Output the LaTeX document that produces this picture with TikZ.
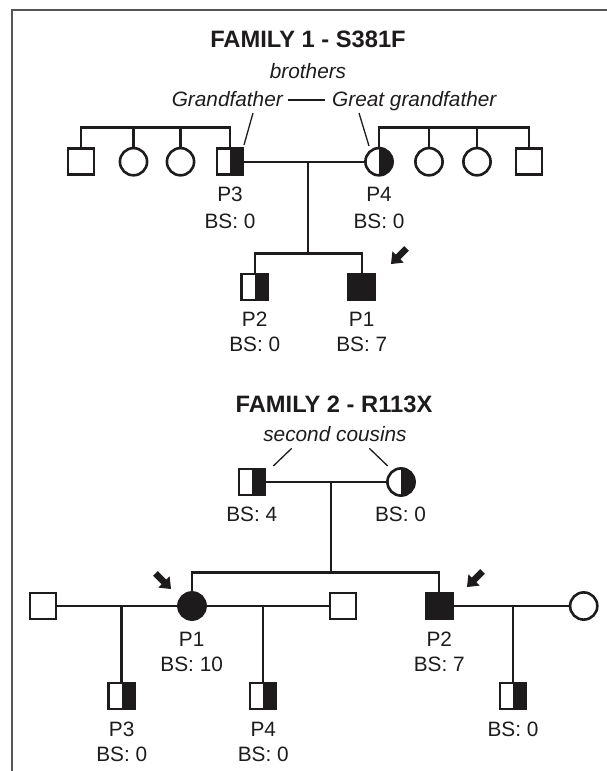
\documentclass[tikz,border=0pt]{standalone}
\usepackage{fontspec}
\setmainfont{Liberation Sans}
\definecolor{inkc}{RGB}{30,27,28}
\definecolor{framec}{RGB}{85,85,85}
\newcommand{\halfsq}[1]{\fill[inkc] (#1.north) rectangle (#1.south east);}
\newcommand{\halfci}[1]{\begin{scope}\clip (#1.north) rectangle ([xshift=20pt]#1.south);\fill[inkc] (#1.center) circle (13.6pt);\end{scope}}
\newcommand{\probarrow}[3]{\fill[inkc, shift={(#1,#2)}, rotate=#3] (0,0) -- (-10,8) -- (-10,3.2) -- (-22,3.2) -- (-22,-3.2) -- (-10,-3.2) -- (-10,-8) -- cycle;}
\begin{document}
\begin{tikzpicture}[x=1pt,y=-1pt,
  sq/.style={rectangle, draw=inkc, line width=2.6pt, minimum size=26pt, inner sep=0pt, outer sep=0pt},
  ci/.style={circle, draw=inkc, line width=2.6pt, minimum size=27.2pt, inner sep=0pt, outer sep=0pt},
  aff/.style={fill=inkc},
  lab/.style={anchor=base, inner sep=0pt, font=\fontsize{20.8}{24}\selectfont, text=inkc},
  ttl/.style={anchor=base, inner sep=0pt, font=\fontsize{23.7}{28}\selectfont\bfseries, text=inkc},
  ital/.style={inner sep=0pt, font=\fontsize{20.8}{24}\selectfont\itshape, text=inkc},
  link/.style={draw=inkc, line width=2.4pt},
  thinl/.style={draw=inkc, line width=1.3pt},
  frame/.style={draw=framec, line width=2pt, line join=miter}
]
\useasboundingbox (0,0) rectangle (607,771);
\draw[frame] (12,771) -- (12,10) -- (607,10);

% ---------------- Family 1 ----------------
\node[ttl] (t1) at (308,47) {FAMILY 1 - S381F};
\node[ital, anchor=base] (bro) at (308,78) {brothers};
\node[ital, anchor=base east] (gf) at (283,106.7) {Grandfather};
\node[ital, anchor=base west] (ggf) at (332,106.7) {Great grandfather};
\draw[thinl] ([shift={(5pt,6.7pt)}]gf.base east) -- ([shift={(-7pt,6.7pt)}]ggf.base west);

\node[sq] (f1a) at (81,161.7) {};
\node[ci] (f1b) at (133.5,161.7) {};
\node[ci] (f1c) at (180.5,161.7) {};
\node[sq] (f1p3) at (230,161.7) {};
\node[ci] (f1p4) at (379,161.7) {};
\node[ci] (f1d) at (429,161.7) {};
\node[ci] (f1e) at (477,161.7) {};
\node[sq] (f1f) at (529,161.7) {};
\halfsq{f1p3}
\halfci{f1p4}

\coordinate (f1sl) at (0,127.3);
\draw[link] (f1a) -- (f1a |- f1sl) -| (f1p3);
\draw[link] (f1b) -- (f1b |- f1sl);
\draw[link] (f1c) -- (f1c |- f1sl);
\draw[link] (f1p4) -- (f1p4 |- f1sl) -| (f1f);
\draw[link] (f1d) -- (f1d |- f1sl);
\draw[link] (f1e) -- (f1e |- f1sl);

\coordinate (gfa) at (253,113);
\coordinate (gfb) at (244,145);
\coordinate (ggfa) at (359,113);
\coordinate (ggfb) at (369,146);
\draw[thinl] (gfa) -- (gfb);
\draw[thinl] (ggfa) -- (ggfb);

\draw[link] (f1p3) -- (f1p4);
\coordinate (f1m) at (307.7,161.7);
\coordinate (f1cs) at (0,253.3);
\draw[link] (f1m) -- (f1m |- f1cs);

\node[sq] (f1p2) at (254.7,287) {};
\node[sq, aff] (f1p1) at (361.7,287) {};
\halfsq{f1p2}
\draw[link] (f1p2) -- (f1p2 |- f1cs) -| (f1p1);

\node[lab] (l13a) at (230,201.7) {P3};
\node[lab] (l13b) at (230,228.3) {BS: 0};
\node[lab] (l14a) at (379,201.7) {P4};
\node[lab] (l14b) at (379,228.3) {BS: 0};
\node[lab] (l12a) at (254.7,326.7) {P2};
\node[lab] (l12b) at (254.7,351.7) {BS: 0};
\node[lab] (l11a) at (361.7,326.7) {P1};
\node[lab] (l11b) at (361.7,351.7) {BS: 7};
\probarrow{391}{264}{225}

% ---------------- Family 2 ----------------
\node[ttl] (t2) at (334,412.7) {FAMILY 2 - R113X};
\node[ital, anchor=base] (sc) at (335,441.7) {second cousins};
\coordinate (sca) at (291.7,448.3);
\coordinate (scb) at (273.3,466);
\coordinate (scc) at (369.3,448.3);
\coordinate (scd) at (387.7,466);
\draw[thinl] (sca) -- (scb);
\draw[thinl] (scc) -- (scd);

\node[sq] (f2a) at (252,482) {};
\node[ci] (f2b) at (401,482) {};
\halfsq{f2a}
\halfci{f2b}
\draw[link] (f2a) -- (f2b);
\coordinate (f2m) at (330.7,482);
\coordinate (f2cs) at (0,572.3);
\draw[link] (f2m) -- (f2m |- f2cs);
\node[lab] (l2a) at (251.7,521.7) {BS: 4};
\node[lab] (l2b) at (400.5,521.7) {BS: 0};

\node[sq] (f2s1) at (42.8,606) {};
\node[ci, aff] (f2p1) at (192,606) {};
\node[sq] (f2s2) at (342.8,606) {};
\node[sq, aff] (f2p2) at (439.2,606) {};
\node[ci] (f2w) at (583.7,606) {};
\draw[link] (f2p1) -- (f2p1 |- f2cs) -| (f2p2);
\draw[link] (f2s1) -- (f2p1);
\draw[link] (f2p1) -- (f2s2);
\draw[link] (f2p2) -- (f2w);

\node[sq] (f2c3) at (121.5,696) {};
\node[sq] (f2c4) at (262.8,696) {};
\node[sq] (f2c5) at (513,696) {};
\halfsq{f2c3}
\halfsq{f2c4}
\halfsq{f2c5}
\coordinate (f2m1) at (121.5,606);
\coordinate (f2m2) at (262.8,606);
\coordinate (f2m3) at (513,606);
\draw[link] (f2m1) -- (f2c3);
\draw[link] (f2m2) -- (f2c4);
\draw[link] (f2m3) -- (f2c5);

\node[lab] (l21a) at (191.7,646.7) {P1};
\node[lab] (l21b) at (191.7,671.7) {BS: 10};
\node[lab] (l22a) at (439.3,646.7) {P2};
\node[lab] (l22b) at (439.3,671.7) {BS: 7};
\node[lab] (l23a) at (121.7,736.7) {P3};
\node[lab] (l23b) at (121.7,761) {BS: 0};
\node[lab] (l24a) at (263.3,736.7) {P4};
\node[lab] (l24b) at (263.3,761) {BS: 0};
\node[lab] (l25) at (513,736.7) {BS: 0};

\probarrow{171}{589}{-45}
\probarrow{467}{587}{225}
\end{tikzpicture}
\end{document}
